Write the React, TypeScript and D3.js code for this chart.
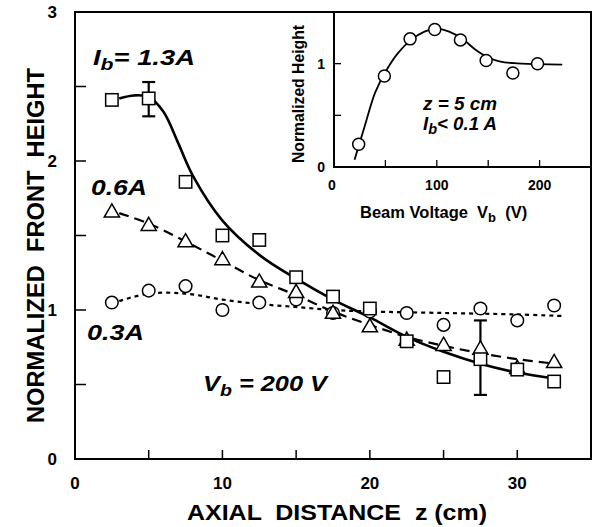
import React from 'react';
import * as d3 from 'd3';

// main panel: normalized front height vs axial distance
const zSquares = [2.5, 5, 7.5, 10, 12.5, 15, 17.5, 20, 22.5, 25, 27.5, 30, 32.5];
const hSquares = [2.41, 2.42, 1.86, 1.5, 1.47, 1.22, 1.09, 1.01, 0.79, 0.55, 0.67, 0.6, 0.52];
const zTriangles = [2.5, 5, 7.5, 10, 12.5, 15, 17.5, 20, 22.5, 25, 27.5, 30, 32.5];
const hTriangles = [1.66, 1.57, 1.46, 1.34, 1.19, 1.12, 0.98, 0.89, 0.8, 0.765, 0.74, 0.61, 0.65];
const zCircles = [2.5, 5, 7.5, 10, 12.5, 15, 17.5, 20, 22.5, 25, 27.5, 30, 32.5];
const hCircles = [1.05, 1.13, 1.16, 1.0, 1.05, 1.07, 0.98, 0.99, 0.98, 0.9, 1.01, 0.93, 1.03];

// fitted curves
const fitHigh = [[3, 2.42], [4, 2.44], [5, 2.43], [6, 2.33], [7, 2.12], [8, 1.9], [10, 1.6], [12.5, 1.37], [15, 1.21], [17.5, 1.07], [20, 0.95], [22.5, 0.82], [25, 0.72], [27.5, 0.64], [30, 0.58], [32.5, 0.54]];
const fitMid = [[3, 1.65], [5, 1.58], [7.5, 1.46], [10, 1.33], [12.5, 1.2], [15, 1.1], [17.5, 0.99], [20, 0.9], [22.5, 0.82], [25, 0.76], [27.5, 0.71], [30, 0.67], [32.5, 0.64]];
const fitLow = [[3, 1.06], [5, 1.11], [7.5, 1.11], [10, 1.07], [12.5, 1.04], [15, 1.02], [17.5, 1.0], [20, 0.99], [25, 0.98], [30, 0.97], [33, 0.96]];

// error bars [z, low, high]
const errorBars = [[5, 2.3, 2.53], [27.5, 0.43, 0.93]];

const xTicksMain = [0, 10, 20, 30];
const xMinorMain = [5, 15, 25];
const yTicksMain = [0, 1, 2, 3];
const yMinorMain = [0.5, 1.5, 2.5];

// inset: normalized height vs beam voltage
const vInset = [24, 49, 74, 98, 123, 148, 174, 198];
const hInset = [0.22, 0.88, 1.24, 1.33, 1.23, 1.03, 0.91, 1.0];
const fitInset = [[20, 0.07], [30, 0.4], [40, 0.72], [50, 0.92], [62, 1.1], [75, 1.23], [88, 1.31], [100, 1.34], [112, 1.31], [125, 1.24], [137, 1.14], [150, 1.06], [162, 1.02], [175, 1.005], [200, 0.995], [222, 0.99]];
const xTicksInset = [0, 100, 200];
const xMinorInset = [50, 150];
const yTicksInset = [0, 1];
const yMinorInset = [0.5];

const W = 595;
const H = 527;
const FONT = "'Liberation Sans', Arial, Helvetica, sans-serif";
const pre = { whiteSpace: 'pre' } as React.CSSProperties;

const App = () => {
  const x = d3.scaleLinear().domain([0, 35]).range([75, 591]);
  const y = d3.scaleLinear().domain([0, 3]).range([459, 12]);
  const xi = d3.scaleLinear().domain([0, 250]).range([334, 591]);
  const yi = d3.scaleLinear().domain([0, 1.5]).range([167, 12]);

  const line = d3
    .line<number[]>()
    .x((d) => x(d[0]))
    .y((d) => y(d[1]))
    .curve(d3.curveCatmullRom.alpha(0.5));
  const lineInset = d3
    .line<number[]>()
    .x((d) => xi(d[0]))
    .y((d) => yi(d[1]))
    .curve(d3.curveCatmullRom.alpha(0.5));

  const tri = d3.symbol(d3.symbolTriangle, 100)();

  return (
    <svg width={W} height={H} style={{ position: 'absolute', left: 0, top: 0 }} fontFamily={FONT}>
      <rect width={W} height={H} fill="#fff" />

      {/* curves */}
      <path d={line(fitHigh) || ''} fill="none" stroke="#000" strokeWidth={2.6} />
      <path d={line(fitMid) || ''} fill="none" stroke="#000" strokeWidth={2.2} strokeDasharray="10 6" />
      <path d={line(fitLow) || ''} fill="none" stroke="#000" strokeWidth={2.2} strokeDasharray="4 4" />

      {/* error bars */}
      {errorBars.map(([z, lo, hi], i) => (
        <g key={i} stroke="#000" strokeWidth={2.2}>
          <line x1={x(z)} x2={x(z)} y1={y(lo)} y2={y(hi)} />
          <line x1={x(z) - 6.5} x2={x(z) + 6.5} y1={y(lo)} y2={y(lo)} />
          <line x1={x(z) - 6.5} x2={x(z) + 6.5} y1={y(hi)} y2={y(hi)} />
        </g>
      ))}

      {/* markers */}
      {zCircles.map((z, i) => (
        <circle key={'c' + i} cx={x(z)} cy={y(hCircles[i])} r={6.3} fill="#fff" stroke="#000" strokeWidth={1.5} />
      ))}
      {zTriangles.map((z, i) => (
        <path key={'t' + i} d={tri || ''} transform={`translate(${x(z)},${y(hTriangles[i]) + 1})`} fill="#fff" stroke="#000" strokeWidth={1.5} />
      ))}
      {zSquares.map((z, i) => (
        <rect key={'s' + i} x={x(z) - 6.2} y={y(hSquares[i]) - 6.2} width={12.4} height={12.4} fill="#fff" stroke="#000" strokeWidth={1.5} />
      ))}

      {/* main frame */}
      <rect x={75} y={12} width={516} height={447} fill="none" stroke="#000" strokeWidth={2} />
      {yMinorMain.concat(yTicksMain).map((t) => (
        <line key={'yt' + t} x1={75} x2={86} y1={y(t)} y2={y(t)} stroke="#000" strokeWidth={1.5} />
      ))}
      {xMinorMain.concat(xTicksMain).map((t) => (
        <line key={'xt' + t} x1={x(t)} x2={x(t)} y1={459} y2={450} stroke="#000" strokeWidth={1.5} />
      ))}
      {yTicksMain.map((t) => (
        <text key={'yl' + t} x={57} y={y(t) + 6} textAnchor="end" fontSize={17} fontWeight="bold">{t}</text>
      ))}
      {xTicksMain.map((t) => (
        <text key={'xl' + t} x={x(t)} y={489} textAnchor="middle" fontSize={17} fontWeight="bold">{t}</text>
      ))}
      <text x={187} y={520} fontSize={22} fontWeight="bold" textLength={300} lengthAdjust="spacingAndGlyphs" style={pre}>{'AXIAL  DISTANCE  z (cm)'}</text>
      <text transform="translate(44,423) rotate(-90)" fontSize={24} fontWeight="bold" textLength={355} lengthAdjust="spacingAndGlyphs" style={pre}>{'NORMALIZED  FRONT  HEIGHT'}</text>

      {/* annotations */}
      <g fontSize={22} fontWeight="bold" fontStyle="italic">
        <text x={93} y={65} textLength={102} lengthAdjust="spacingAndGlyphs">I<tspan fontSize={17} dy={5}>b</tspan><tspan dy={-5}>= 1.3A</tspan></text>
        <text x={91} y={195} textLength={56} lengthAdjust="spacingAndGlyphs">0.6A</text>
        <text x={87} y={340} textLength={57} lengthAdjust="spacingAndGlyphs">0.3A</text>
        <text x={203} y={391} textLength={124} lengthAdjust="spacingAndGlyphs">V<tspan fontSize={17} dy={5}>b</tspan><tspan dy={-5}> = 200 V</tspan></text>
      </g>

      {/* inset */}
      <rect x={334} y={12} width={257} height={155} fill="#fff" />
      <path d={lineInset(fitInset) || ''} fill="none" stroke="#000" strokeWidth={1.8} />
      {vInset.map((v, i) => (
        <circle key={'ic' + i} cx={xi(v)} cy={yi(hInset[i])} r={6} fill="#fff" stroke="#000" strokeWidth={1.5} />
      ))}
      <path d="M334,12V167H591" fill="none" stroke="#000" strokeWidth={2} />
      <line x1={334} x2={591} y1={12} y2={12} stroke="#000" strokeWidth={2} />
      <line x1={591} x2={591} y1={12} y2={167} stroke="#000" strokeWidth={2} />
      {yMinorInset.concat([1]).map((t) => (
        <line key={'iyt' + t} x1={334} x2={341} y1={yi(t)} y2={yi(t)} stroke="#000" strokeWidth={1.3} />
      ))}
      {xMinorInset.concat([100, 200]).map((t) => (
        <line key={'ixt' + t} x1={xi(t)} x2={xi(t)} y1={167} y2={160} stroke="#000" strokeWidth={1.3} />
      ))}
      {yTicksInset.map((t) => (
        <text key={'iyl' + t} x={325} y={yi(t) + 5} textAnchor="end" fontSize={14} fontWeight="bold">{t}</text>
      ))}
      {xTicksInset.map((t) => (
        <text key={'ixl' + t} x={xi(t) - (t === 0 ? 2 : 0)} y={190} textAnchor="middle" fontSize={14} fontWeight="bold">{t}</text>
      ))}
      <text x={360} y={218} fontSize={16.5} fontWeight="bold" style={pre}>
        {'Beam Voltage  V'}<tspan fontSize={13} dy={4}>b</tspan><tspan dy={-4}>{'  (V)'}</tspan>
      </text>
      <text transform="translate(304,163) rotate(-90)" fontSize={16} fontWeight="bold" textLength={138} lengthAdjust="spacingAndGlyphs">Normalized Height</text>
      <g fontSize={18} fontWeight="bold" fontStyle="italic">
        <text x={423} y={110} textLength={74} lengthAdjust="spacingAndGlyphs">z = 5 cm</text>
        <text x={423} y={130} textLength={74} lengthAdjust="spacingAndGlyphs">I<tspan fontSize={14} dy={4}>b</tspan><tspan dy={-4}>&lt; 0.1 A</tspan></text>
      </g>
    </svg>
  );
};

export default App;
